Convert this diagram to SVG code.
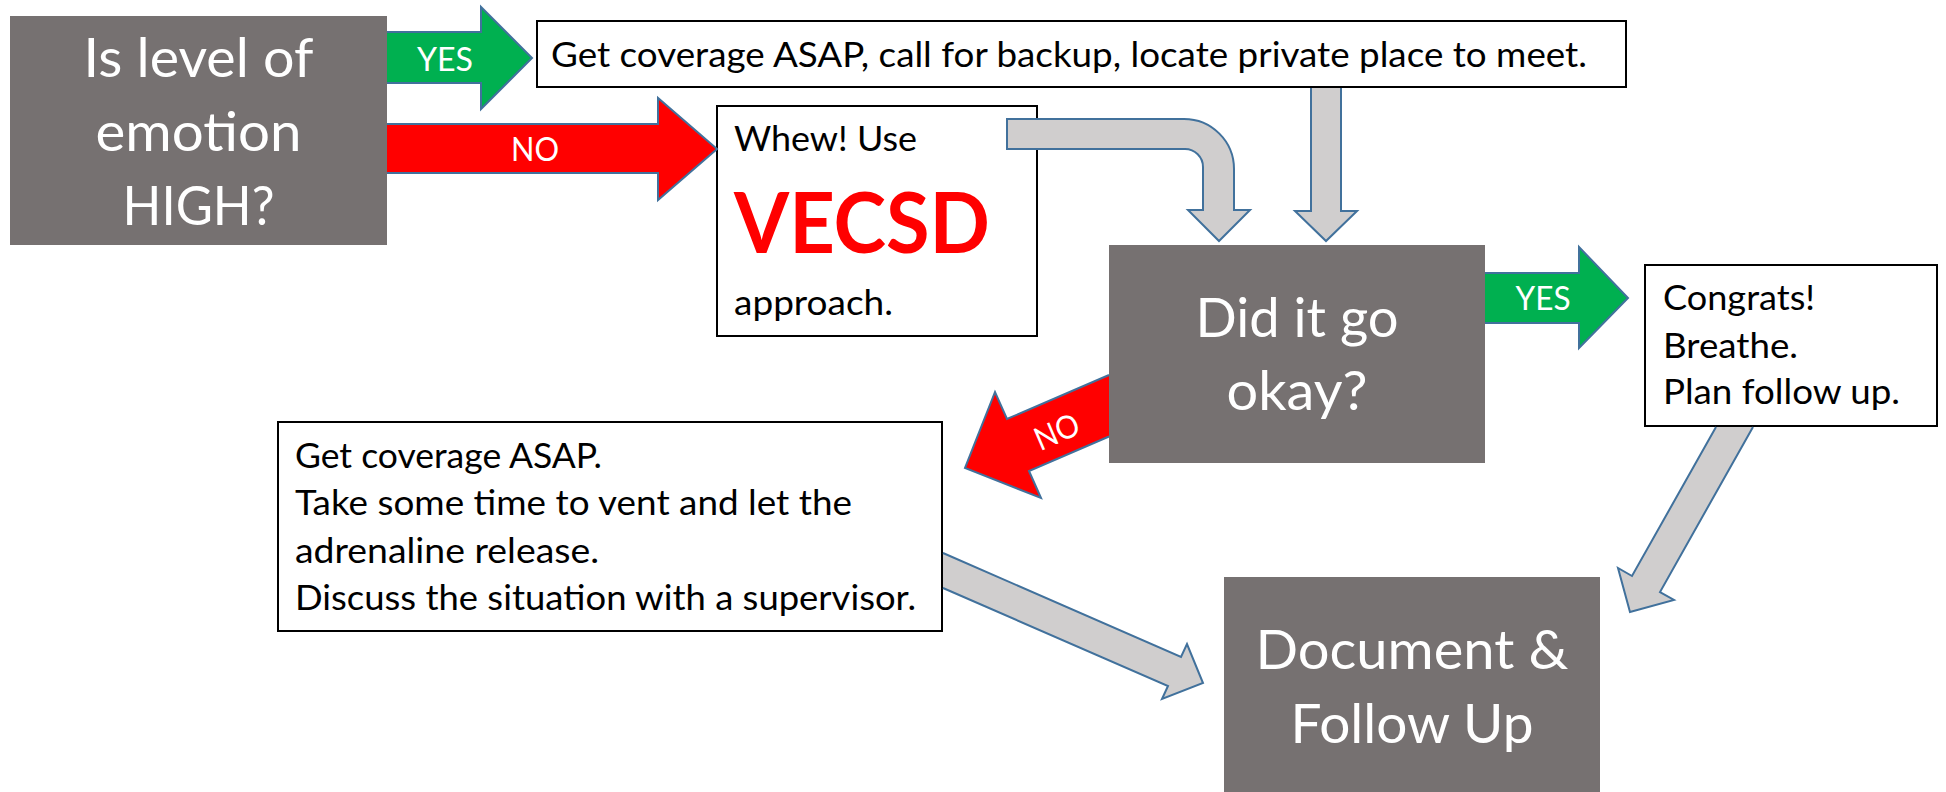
<svg xmlns="http://www.w3.org/2000/svg" width="1946" height="792" viewBox="0 0 1946 792">
  <defs>
    <style>
      .dark { fill: #767171; }
      .note { fill: #ffffff; stroke: #000000; stroke-width: 2; }
      .big { font-family: Lato, "Liberation Sans", sans-serif; font-size: 55px; fill: #ffffff; text-anchor: middle; }
      .body { font-family: Lato, "Liberation Sans", sans-serif; font-size: 34px; fill: #000000; }
      .lbl { font-family: Lato, "Liberation Sans", sans-serif; font-size: 32px; fill: #ffffff; text-anchor: middle; }
      .vecsd { font-family: Lato, "Liberation Sans", sans-serif; font-size: 84px; font-weight: bold; fill: #ff0000; }
      .arr { stroke: #41719c; stroke-width: 2; stroke-linejoin: miter; }
      .yes { fill: #00b050; }
      .no { fill: #ff0000; }
      .flow { fill: #d0cece; }
    </style>
  </defs>

  <rect width="1946" height="792" fill="#ffffff"/>

  <!-- decision: emotion level -->
  <g id="node-emotion">
    <rect class="dark" x="10" y="16" width="377" height="229"/>
    <text class="big" x="198.5" y="77" textLength="230" lengthAdjust="spacingAndGlyphs">Is level of</text>
    <text class="big" x="198.5" y="151" textLength="206" lengthAdjust="spacingAndGlyphs">emotion</text>
    <text class="big" x="198.5" y="225" textLength="152" lengthAdjust="spacingAndGlyphs">HIGH?</text>
  </g>

  <!-- high emotion: immediate actions -->
  <g id="node-coverage">
    <rect class="note" x="537" y="21" width="1089" height="66"/>
    <text class="body" x="551" y="67" textLength="1036" lengthAdjust="spacingAndGlyphs">Get coverage ASAP, call for backup, locate private place to meet.</text>
  </g>

  <!-- low emotion: VECSD approach -->
  <g id="node-vecsd">
    <rect class="note" x="717" y="106" width="320" height="230"/>
    <text class="body" x="734" y="151" textLength="183" lengthAdjust="spacingAndGlyphs">Whew! Use</text>
    <text class="vecsd" x="734" y="253" textLength="256" lengthAdjust="spacingAndGlyphs">VECSD</text>
    <text class="body" x="734" y="315" textLength="159" lengthAdjust="spacingAndGlyphs">approach.</text>
  </g>

  <!-- decision: outcome -->
  <g id="node-okay">
    <rect class="dark" x="1109" y="245" width="376" height="218"/>
    <text class="big" x="1297" y="337" textLength="203" lengthAdjust="spacingAndGlyphs">Did it go</text>
    <text class="big" x="1297" y="410" textLength="141" lengthAdjust="spacingAndGlyphs">okay?</text>
  </g>

  <!-- good outcome -->
  <g id="node-congrats">
    <rect class="note" x="1645" y="265" width="292" height="161"/>
    <text class="body" x="1663" y="310" textLength="152" lengthAdjust="spacingAndGlyphs">Congrats!</text>
    <text class="body" x="1663" y="358" textLength="135" lengthAdjust="spacingAndGlyphs">Breathe.</text>
    <text class="body" x="1663" y="404" textLength="237" lengthAdjust="spacingAndGlyphs">Plan follow up.</text>
  </g>

  <!-- bad outcome -->
  <g id="node-debrief">
    <rect class="note" x="278" y="422" width="664" height="209"/>
    <text class="body" x="295" y="468" textLength="307" lengthAdjust="spacingAndGlyphs">Get coverage ASAP.</text>
    <text class="body" x="295" y="515" textLength="557" lengthAdjust="spacingAndGlyphs">Take some time to vent and let the</text>
    <text class="body" x="295" y="563" textLength="304" lengthAdjust="spacingAndGlyphs">adrenaline release.</text>
    <text class="body" x="295" y="610" textLength="621" lengthAdjust="spacingAndGlyphs">Discuss the situation with a supervisor.</text>
  </g>

  <!-- final step -->
  <g id="node-document">
    <rect class="dark" x="1224" y="577" width="376" height="215"/>
    <text class="big" x="1412" y="669" textLength="313" lengthAdjust="spacingAndGlyphs">Document &amp;</text>
    <text class="big" x="1412" y="743" textLength="243" lengthAdjust="spacingAndGlyphs">Follow Up</text>
  </g>

  <!-- block arrows; open paths leave the tail edge unstroked where it meets a box -->
  <g id="connectors">
    <path class="arr yes" d="M387,32 H481 V7 L532,58 L481,109 V83 H387"/>
    <text class="lbl" x="445" y="71" textLength="56" lengthAdjust="spacingAndGlyphs">YES</text>

    <path class="arr no" d="M387,124 H658 V98 L717,149 L658,200 V173 H387"/>
    <text class="lbl" x="535" y="161" textLength="48" lengthAdjust="spacingAndGlyphs">NO</text>

    <path class="arr flow" d="M1007,119 H1184 A50,50 0 0 1 1234,169 V210 H1250 L1219,241 L1188,210 H1203 V167 A18,18 0 0 0 1185,149 H1007 Z"/>

    <path class="arr flow" d="M1311,88 V211 H1295 L1326,241 L1357,211 H1341 V88"/>

    <path class="arr yes" d="M1485,273 H1579 V247 L1628,298 L1579,348 V323 H1485"/>
    <text class="lbl" x="1543" y="310" textLength="55" lengthAdjust="spacingAndGlyphs">YES</text>

    <path class="arr no" d="M1109,375 L1007,419 L995,392 L965,468 L1041,498 L1029,471 L1109,436.5"/>
    <text class="lbl" x="1057" y="443" textLength="46" lengthAdjust="spacingAndGlyphs" transform="rotate(-23.3 1057 432)">NO</text>

    <path class="arr flow" d="M1753,427 L1660,592 L1674,600 L1630,612 L1618,568 L1632,576 L1716,427"/>

    <path class="arr flow" d="M943,553 L1181,657 L1187,644 L1203,683 L1162,699 L1168,686 L943,588"/>
  </g>
</svg>
